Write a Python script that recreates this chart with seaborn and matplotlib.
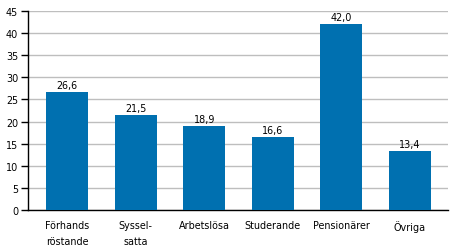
import matplotlib
matplotlib.use("Agg")
import matplotlib.pyplot as plt
import seaborn as sns
import pandas as pd

categories = ["Förhands\nröstande", "Syssel-\nsatta", "Arbetslösa", "Studerande", "Pensionärer", "Övriga"]
values = [26.6, 21.5, 18.9, 16.6, 42.0, 13.4]
labels = ["26,6", "21,5", "18,9", "16,6", "42,0", "13,4"]

sns.set_theme(style="white")
plt.rcParams['font.family'] = ['DejaVu Sans']
plt.rcParams['text.color'] = 'black'
plt.rcParams['xtick.color'] = 'black'
plt.rcParams['ytick.color'] = 'black'

FS = 6.9
df = pd.DataFrame({"cat": categories, "val": values})
fig = plt.figure(figsize=(4.54, 2.53), dpi=100)
ax = fig.add_axes([28/454, 1-211/253, 420/454, 199/253])
sns.barplot(data=df, x="cat", y="val", color="#0070B0", width=0.61, saturation=1,
            linewidth=0, ax=ax, zorder=3)
ax.set_ylim(0, 45)
ax.set_xlim(-0.57, 5.555)
ax.set_yticks(range(0, 46, 5))
ax.yaxis.grid(True, color="#BEBEBE", linewidth=1, zorder=0)
ax.set_axisbelow(True)
ax.set_xlabel("")
ax.set_ylabel("")
for s in ["top", "right"]:
    ax.spines[s].set_visible(False)
for s in ["left", "bottom"]:
    ax.spines[s].set_color("black")
    ax.spines[s].set_linewidth(1)
ax.tick_params(axis="y", left=True, length=5, width=1, color="black", labelsize=FS, pad=2, labelcolor="black")
ax.tick_params(axis="x", bottom=False, labelsize=FS, pad=1, labelcolor="black")
for t in ax.get_xticklabels():
    t.set_linespacing(1.75)
for i, (v, l) in enumerate(zip(values, labels)):
    ax.annotate(l, (i, v), xytext=(0, 1.5), textcoords="offset points", ha="center", va="bottom", fontsize=FS, color="black")
fig.savefig("out.png", dpi=100)
